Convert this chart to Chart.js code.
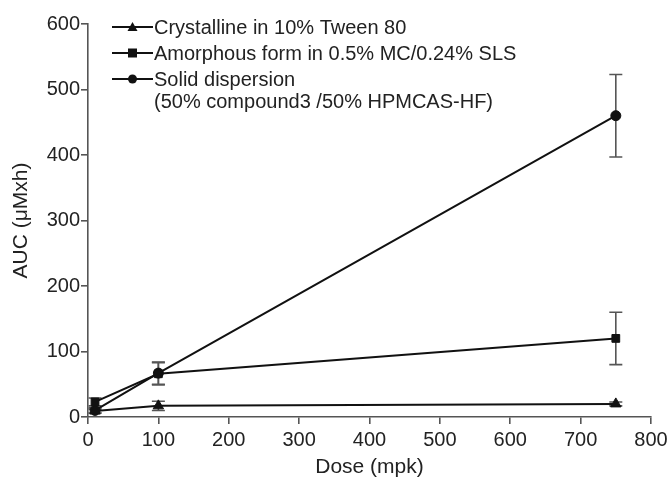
<!DOCTYPE html>
<html>
<head>
<meta charset="utf-8">
<script src="https://cdn.jsdelivr.net/npm/chart.js@4/dist/chart.umd.min.js"></script>
<style>
html,body{margin:0;padding:0;background:#fff;}
#c{display:block;}
</style>
</head>
<body>
<canvas id="c" width="672" height="477"></canvas>
<script>
// ---- data ----
const doses = [10, 100, 750];
const seriesLabels = [
  ["Crystalline in 10% Tween 80"],
  ["Amorphous form in 0.5% MC/0.24% SLS"],
  ["Solid dispersion", "(50% compound3 /50% HPMCAS-HF)"]
];
const crystalline = [9, 17, 20];
const crystallineErr = [3, 7, 3];
const amorphous = [23, 66, 120];
const amorphousErr = [6, 17, 40];
const solidDispersion = [10, 67, 460];
const solidDispersionErr = [4, 17, 63];
const xTicks = [0, 100, 200, 300, 400, 500, 600, 700, 800];
const yTicks = [0, 100, 200, 300, 400, 500, 600];
const xTitle = "Dose (mpk)";
const yTitle = "AUC (\u03bcMxh)";

const FONT = "'Liberation Sans', Arial, sans-serif";
const AXIS = "#555";
const INK = "#111";
const TXT = "#222";

function mk(vals) { return doses.map((d, i) => ({x: d, y: vals[i]})); }

const datasets = [
  {label: seriesLabels[0].join(" "), data: mk(crystalline), err: crystallineErr, pointStyle: 'triangle', pointRadius: 6},
  {label: seriesLabels[1].join(" "), data: mk(amorphous), err: amorphousErr, pointStyle: 'rect', pointRadius: 5.5},
  {label: seriesLabels[2].join(" "), data: mk(solidDispersion), err: solidDispersionErr, pointStyle: 'circle', pointRadius: 5}
].map((d, i) => Object.assign({
  borderColor: INK, backgroundColor: INK, pointBackgroundColor: INK, pointBorderColor: INK,
  borderWidth: 2, pointBorderWidth: 1, tension: 0, showLine: true, clip: false,
  lines: seriesLabels[i]
}, d));

const errorBars = {
  id: 'errorBars',
  beforeDatasetsDraw(chart) {
    const {ctx, scales: {x, y}} = chart;
    ctx.save();
    ctx.strokeStyle = AXIS;
    ctx.lineWidth = 1.6;
    chart.data.datasets.forEach(ds => {
      ds.data.forEach((p, i) => {
        const e = ds.err[i];
        const px = x.getPixelForValue(p.x);
        const top = y.getPixelForValue(p.y + e);
        const bot = y.getPixelForValue(Math.max(0, p.y - e));
        const cap = 6.5;
        ctx.beginPath();
        ctx.moveTo(px, top); ctx.lineTo(px, bot);
        ctx.moveTo(px - cap, top); ctx.lineTo(px + cap, top);
        ctx.moveTo(px - cap, bot); ctx.lineTo(px + cap, bot);
        ctx.stroke();
      });
    });
    ctx.restore();
  }
};

const legendPlugin = {
  id: 'customLegend',
  afterDraw(chart) {
    const {ctx} = chart;
    ctx.save();
    ctx.font = "20px " + FONT;
    ctx.textBaseline = 'middle';
    const x0 = 112, x1 = 153, tx = 154;
    let yy = 27;
    chart.data.datasets.forEach(ds => {
      ctx.strokeStyle = INK; ctx.lineWidth = 2;
      ctx.beginPath(); ctx.moveTo(x0, yy); ctx.lineTo(x1, yy); ctx.stroke();
      const cx = (x0 + x1) / 2;
      ctx.fillStyle = INK;
      ctx.beginPath();
      if (ds.pointStyle === 'triangle') {
        ctx.moveTo(cx, yy - 5); ctx.lineTo(cx + 5, yy + 4); ctx.lineTo(cx - 5, yy + 4); ctx.closePath();
      } else if (ds.pointStyle === 'rect') {
        ctx.rect(cx - 4.5, yy - 4.5, 9, 9);
      } else {
        ctx.arc(cx, yy, 4.5, 0, Math.PI * 2);
      }
      ctx.fill();
      ctx.fillStyle = TXT;
      ds.lines.forEach((t, k) => {
        ctx.fillText(t, tx, yy + 1 + k * 22);
      });
      yy += 26 + (ds.lines.length - 1) * 22;
    });
    ctx.restore();
  }
};

new Chart(document.getElementById('c'), {
  type: 'scatter',
  data: {datasets},
  options: {
    responsive: false,
    animation: false,
    devicePixelRatio: 1,
    layout: {padding: {left: 0, top: 24, right: 21, bottom: 0}},
    plugins: {legend: {display: false}, tooltip: {enabled: false}},
    scales: {
      x: {
        type: 'linear', min: 0, max: 800,
        afterBuildTicks: s => { s.ticks = xTicks.map(v => ({value: v})); },
        afterFit: s => { s.height = 60; },
        border: {color: AXIS, width: 1.6},
        grid: {display: true, drawOnChartArea: false, drawTicks: true, tickLength: 7, color: AXIS, lineWidth: 1.6},
        ticks: {color: TXT, font: {family: FONT, size: 20}, padding: 4},
        title: {display: true, text: xTitle, color: TXT, font: {family: FONT, size: 21}, padding: {top: 2, bottom: -3}}
      },
      y: {
        type: 'linear', min: 0, max: 600,
        afterBuildTicks: s => { s.ticks = yTicks.map(v => ({value: v})); },
        afterFit: s => { s.width = 88; },
        border: {color: AXIS, width: 1.6},
        grid: {display: true, drawOnChartArea: false, drawTicks: true, tickLength: 7, color: AXIS, lineWidth: 1.6},
        ticks: {color: TXT, font: {family: FONT, size: 20}, padding: 1},
        title: {display: true, text: yTitle, color: TXT, font: {family: FONT, size: 21}, padding: {top: 9, bottom: 0}}
      }
    }
  },
  plugins: [errorBars, legendPlugin]
});
</script>
</body>
</html>
